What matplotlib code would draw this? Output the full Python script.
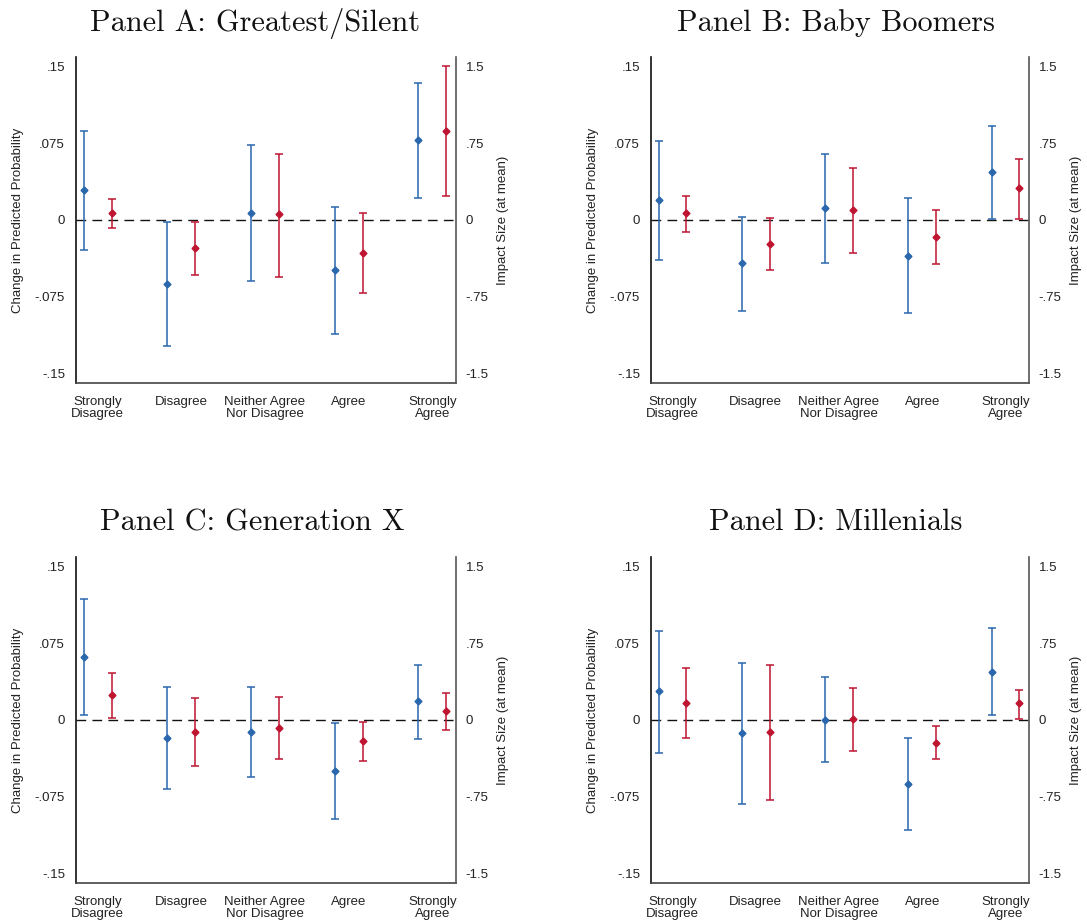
import numpy as np
import matplotlib
matplotlib.use("Agg")
import matplotlib.pyplot as plt

plt.rcParams['font.family'] = ['Liberation Sans', 'DejaVu Sans']

categories = ["Strongly\nDisagree", "Disagree", "Neither Agree\nNor Disagree", "Agree", "Strongly\nAgree"]
titles = ["Panel A: Greatest/Silent", "Panel B: Baby Boomers",
          "Panel C: Generation X", "Panel D: Millenials"]

left_ticks = [-0.15, -0.075, 0, 0.075, 0.15]
left_labels = ["-.15", "-.075", "0", ".075", ".15"]
right_ticks = [-1.5, -0.75, 0, 0.75, 1.5]
right_labels = ["-1.5", "-.75", "0", ".75", "1.5"]

# change in predicted probability (left axis)
prob_a = [0.0288, -0.0621, 0.0071, -0.0491, 0.0782]
prob_a_lo = [-0.0291, -0.1228, -0.0595, -0.1115, 0.0213]
prob_a_hi = [0.0866, -0.0023, 0.0727, 0.0123, 0.1338]
prob_b = [0.0197, -0.0420, 0.0116, -0.0346, 0.0472]
prob_b_lo = [-0.0388, -0.0889, -0.0417, -0.0905, 0.0006]
prob_b_hi = [0.0766, 0.0026, 0.0647, 0.0210, 0.0918]
prob_c = [0.0616, -0.0175, -0.0113, -0.0492, 0.0181]
prob_c_lo = [0.0049, -0.0671, -0.0554, -0.0962, -0.0188]
prob_c_hi = [0.1183, 0.0321, 0.0321, -0.0032, 0.0538]
prob_d = [0.0279, -0.0130, 0.0003, -0.0622, 0.0470]
prob_d_lo = [-0.0324, -0.0816, -0.0408, -0.1069, 0.0049]
prob_d_hi = [0.0871, 0.0557, 0.0421, -0.0172, 0.0894]

# impact size at mean (right axis)
imp_a = [0.065, -0.275, 0.055, -0.320, 0.870]
imp_a_lo = [-0.078, -0.533, -0.553, -0.714, 0.233]
imp_a_hi = [0.204, -0.016, 0.647, 0.065, 1.503]
imp_b = [0.065, -0.230, 0.097, -0.165, 0.307]
imp_b_lo = [-0.116, -0.488, -0.323, -0.433, 0.006]
imp_b_hi = [0.230, 0.016, 0.511, 0.100, 0.592]
imp_c = [0.243, -0.113, -0.075, -0.204, 0.087]
imp_c_lo = [0.019, -0.444, -0.379, -0.398, -0.097]
imp_c_hi = [0.454, 0.214, 0.224, -0.016, 0.266]
imp_d = [0.162, -0.120, 0.006, -0.220, 0.162]
imp_d_lo = [-0.178, -0.778, -0.298, -0.379, 0.006]
imp_d_hi = [0.505, 0.531, 0.311, -0.062, 0.292]

panels = [
    (prob_a, prob_a_lo, prob_a_hi, imp_a, imp_a_lo, imp_a_hi),
    (prob_b, prob_b_lo, prob_b_hi, imp_b, imp_b_lo, imp_b_hi),
    (prob_c, prob_c_lo, prob_c_hi, imp_c, imp_c_lo, imp_c_hi),
    (prob_d, prob_d_lo, prob_d_hi, imp_d, imp_d_lo, imp_d_hi),
]

BLUE = '#2a67ad'
RED = '#bf1530'
W, H = 1087, 921

fig = plt.figure(figsize=(W / 100, H / 100), dpi=100)

# axes boxes in pixels: (left, top, right, bottom)
boxes = [(76, 57, 456, 383), (651, 57, 1029, 383),
         (76, 557, 456, 883), (651, 557, 1029, 883)]
title_pos = [(255, 31), (836, 31), (252, 530), (836, 530)]

x = np.arange(1, len(categories) + 1)
off = 0.167
ylim = 0.1588

for i, (p, plo, phi, m, mlo, mhi) in enumerate(panels):
    l, t, r, b = boxes[i]
    ax = fig.add_axes([l / W, 1 - b / H, (r - l) / W, (b - t) / H])
    ax2 = ax.twinx()

    p, plo, phi = np.array(p), np.array(plo), np.array(phi)
    m, mlo, mhi = np.array(m), np.array(mlo), np.array(mhi)

    ax.axhline(0, color='#111111', lw=1.0, ls=(0, (7, 4.5)), zorder=1)
    ax.errorbar(x - off, p, yerr=[p - plo, phi - p], fmt='D', ms=3.5,
                color=BLUE, ecolor=BLUE, elinewidth=1.1, capsize=3,
                capthick=1.1, zorder=3)
    ax2.errorbar(x + off, m, yerr=[m - mlo, mhi - m], fmt='D', ms=3.5,
                 color=RED, ecolor=RED, elinewidth=1.1, capsize=3,
                 capthick=1.1, zorder=3)

    ax.set_xlim(0.742, 5.283)
    ax.set_ylim(-ylim, ylim)
    ax2.set_ylim(-ylim * 10, ylim * 10)

    ax.set_yticks(left_ticks)
    ax.set_yticklabels(left_labels)
    ax2.set_yticks(right_ticks)
    ax2.set_yticklabels(right_labels)
    ax.set_xticks(x)
    ax.set_xticklabels(categories, linespacing=1.05)

    ax.tick_params(axis='y', length=0, pad=8, labelsize=9.5, labelcolor='#222222')
    ax.tick_params(axis='x', length=0, pad=9, labelsize=9.5, labelcolor='#222222')
    ax2.tick_params(axis='y', length=0, pad=7, labelsize=9.5, labelcolor='#222222')

    ax.set_ylabel("Change in Predicted Probability", fontsize=9.5, color='#222222')
    ax.yaxis.set_label_coords(-0.137, 0.5)
    ax2.set_ylabel("Impact Size (at mean)", fontsize=9.5, color='#222222')
    ax2.yaxis.set_label_coords(1.108, 0.5)

    for s in ['top', 'right']:
        ax.spines[s].set_visible(False)
    for s in ['top', 'left', 'bottom']:
        ax2.spines[s].set_visible(False)
    ax.spines['left'].set_color('#111111')
    ax.spines['bottom'].set_color('#444444')
    ax2.spines['right'].set_color('#555555')
    for s in [ax.spines['left'], ax.spines['bottom'], ax2.spines['right']]:
        s.set_linewidth(1.2)

    tx, ty = title_pos[i]
    fig.text(tx / W, 1 - ty / H, titles[i], family='cmr10', fontsize=21.8,
             ha='center', va='baseline', color='#111111')

fig.savefig("out.png", dpi=100, facecolor='white')
